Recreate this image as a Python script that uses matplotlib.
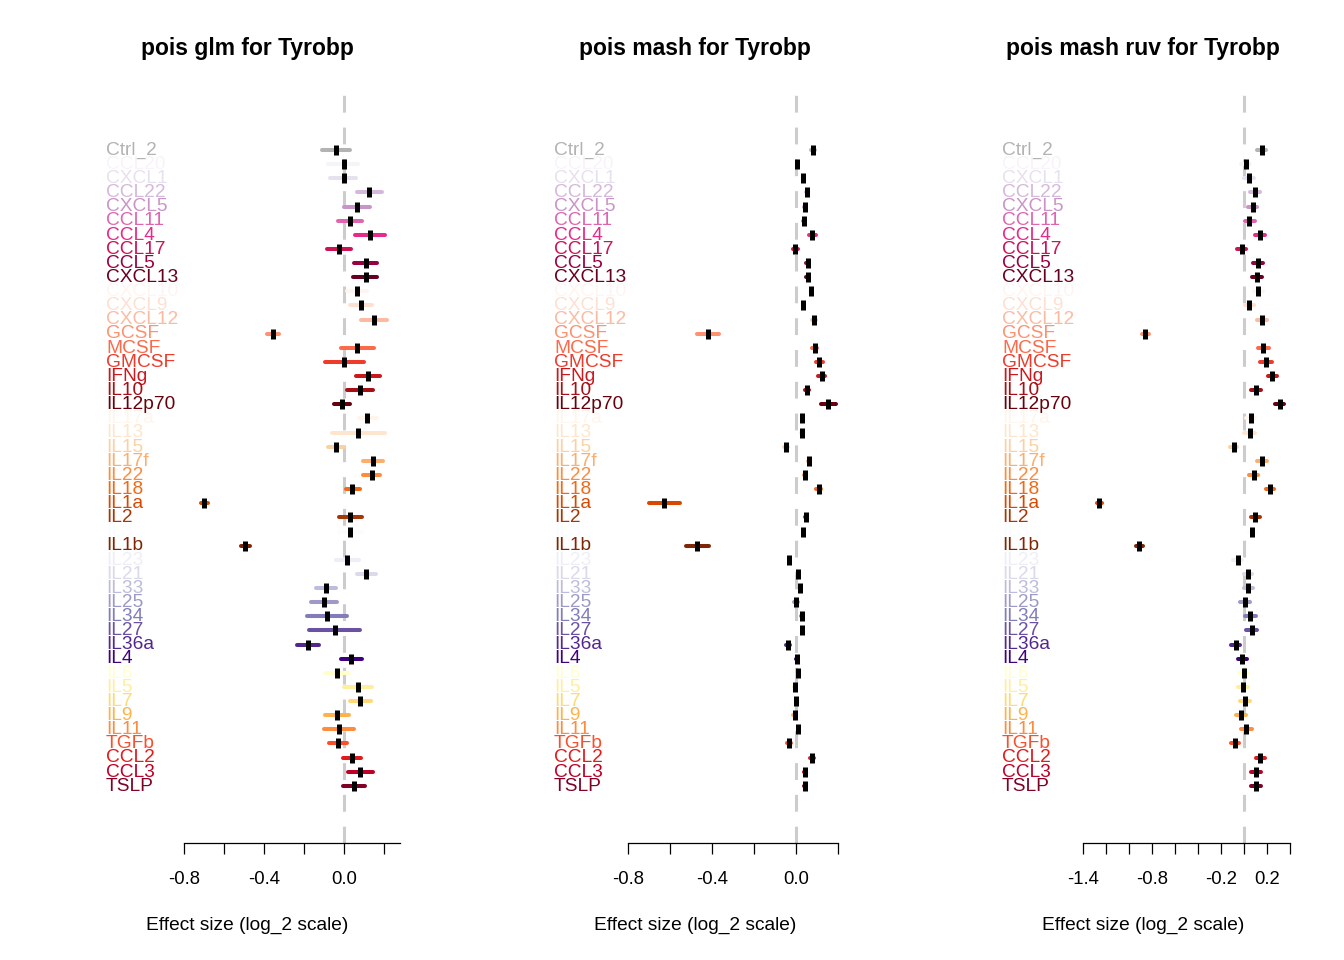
import matplotlib
matplotlib.use('Agg')
import matplotlib.pyplot as plt

plt.rcParams['font.family'] = ['Liberation Sans', 'DejaVu Sans']

# conditions, top to bottom
labels = ['Ctrl_2', 'CCL20', 'CXCL1', 'CCL22', 'CXCL5', 'CCL11', 'CCL4', 'CCL17', 'CCL5', 'CXCL13',
          'CXCL10', 'CXCL9', 'CXCL12', 'GCSF', 'MCSF', 'GMCSF', 'IFNg', 'IL10', 'IL12p70',
          'IL17a', 'IL13', 'IL15', 'IL17f', 'IL22', 'IL18', 'IL1a', 'IL2', 'IL3', 'IL1b',
          'IL23', 'IL21', 'IL33', 'IL25', 'IL34', 'IL27', 'IL36a', 'IL4',
          'IL6', 'IL5', 'IL7', 'IL9', 'IL11', 'TGFb', 'CCL2', 'CCL3', 'TSLP']

colors = ['#B3B3B3',
          '#F7F4F9', '#E7E1EF', '#D4B9DA', '#C994C7', '#DF65B0', '#E7298A', '#CE1256', '#980043', '#67001F',
          '#FFF5F0', '#FEE0D2', '#FCBBA1', '#FC9272', '#FB6A4A', '#EF3B2C', '#CB181D', '#A50F15', '#67000D',
          '#FFF5EB', '#FEE6CE', '#FDD0A2', '#FDAE6B', '#FD8D3C', '#F16913', '#D94801', '#A63603', '#FCFBFD', '#7F2704',
          '#EFEDF5', '#DADAEB', '#BCBDDC', '#9E9AC8', '#807DBA', '#6A51A3', '#54278F', '#3F007D',
          '#FFFFCC', '#FFEDA0', '#FED976', '#FEB24C', '#FD8D3C', '#FC4E2A', '#E31A1C', '#BD0026', '#800026']

# pois glm
glm_est = [-0.04, 0.0, 0.0, 0.127, 0.063, 0.028, 0.13, -0.025, 0.108, 0.108,
           0.063, 0.087, 0.15, -0.357, 0.067, 0.002, 0.118, 0.082, -0.008,
           0.117, 0.072, -0.042, 0.143, 0.138, 0.042, -0.698, 0.03, 0.03, -0.495,
           0.017, 0.11, -0.09, -0.1, -0.083, -0.047, -0.18, 0.037,
           -0.035, 0.07, 0.08, -0.035, -0.025, -0.03, 0.038, 0.082, 0.05]
glm_lo = [-0.11, -0.08, -0.07, 0.065, 0.0, -0.03, 0.057, -0.083, 0.048, 0.045,
          0.015, 0.032, 0.087, -0.385, -0.015, -0.095, 0.06, 0.015, -0.048,
          0.073, -0.06, -0.08, 0.093, 0.095, 0.01, -0.715, -0.027, -0.027, -0.513,
          -0.04, 0.065, -0.14, -0.165, -0.183, -0.173, -0.237, -0.015,
          -0.093, 0.002, 0.028, -0.097, -0.102, -0.073, -0.007, 0.018, -0.007]
glm_hi = [0.03, 0.07, 0.06, 0.19, 0.13, 0.088, 0.203, 0.037, 0.167, 0.167,
          0.117, 0.142, 0.215, -0.325, 0.148, 0.098, 0.182, 0.145, 0.032,
          0.163, 0.203, -0.002, 0.195, 0.182, 0.078, -0.68, 0.092, 0.09, -0.472,
          0.075, 0.158, -0.038, -0.033, 0.017, 0.082, -0.123, 0.092,
          0.023, 0.14, 0.133, 0.025, 0.05, 0.013, 0.083, 0.145, 0.105]

# pois mash
mash_est = [0.081, 0.006, 0.035, 0.051, 0.043, 0.038, 0.078, -0.003, 0.056, 0.056,
            0.071, 0.035, 0.087, -0.419, 0.089, 0.111, 0.122, 0.052, 0.154,
            0.03, 0.027, -0.048, 0.062, 0.043, 0.108, -0.627, 0.048, 0.035, -0.47,
            -0.032, 0.008, 0.019, 0.0, 0.027, 0.03, -0.037, 0.005,
            0.011, -0.005, 0.002, -0.006, 0.011, -0.033, 0.078, 0.041, 0.041]
mash_lo = [0.072, 0.003, 0.032, 0.048, 0.04, 0.035, 0.062, -0.016, 0.049, 0.049,
           0.068, 0.032, 0.077, -0.473, 0.077, 0.093, 0.104, 0.042, 0.119,
           0.027, 0.024, -0.058, 0.055, 0.04, 0.097, -0.702, 0.043, 0.032, -0.524,
           -0.035, 0.003, 0.016, -0.01, 0.024, 0.027, -0.047, 0.0,
           0.008, -0.008, -0.001, -0.013, 0.008, -0.043, 0.068, 0.038, 0.038]
mash_hi = [0.09, 0.009, 0.038, 0.054, 0.046, 0.041, 0.094, 0.01, 0.063, 0.063,
           0.074, 0.038, 0.097, -0.365, 0.101, 0.129, 0.14, 0.062, 0.189,
           0.033, 0.03, -0.038, 0.069, 0.046, 0.119, -0.552, 0.053, 0.038, -0.416,
           -0.029, 0.013, 0.022, 0.01, 0.03, 0.033, -0.027, 0.01,
           0.014, -0.002, 0.005, 0.001, 0.014, -0.023, 0.088, 0.044, 0.044]

# pois mash ruv
ruv_est = [0.154, 0.014, 0.043, 0.096, 0.075, 0.046, 0.139, -0.02, 0.119, 0.113,
           0.122, 0.046, 0.157, -0.858, 0.165, 0.188, 0.246, 0.104, 0.313,
           0.061, 0.052, -0.087, 0.154, 0.084, 0.226, -1.261, 0.099, 0.072, -0.91,
           -0.055, 0.032, 0.035, 0.009, 0.055, 0.067, -0.072, -0.014,
           -0.003, -0.012, 0.009, -0.029, 0.02, -0.075, 0.142, 0.101, 0.101]
ruv_lo = [0.113, -0.026, 0.003, 0.055, 0.037, 0.005, 0.098, -0.061, 0.078, 0.072,
          0.089, 0.005, 0.116, -0.887, 0.118, 0.136, 0.205, 0.063, 0.272,
          0.02, 0.003, -0.119, 0.11, 0.046, 0.194, -1.279, 0.058, 0.04, -0.937,
          -0.096, -0.003, -0.003, -0.038, 0.005, 0.017, -0.116, -0.055,
          -0.047, -0.055, -0.035, -0.067, -0.024, -0.113, 0.107, 0.06, 0.058]
ruv_hi = [0.195, 0.05, 0.087, 0.137, 0.116, 0.093, 0.18, 0.021, 0.166, 0.16,
          0.166, 0.087, 0.203, -0.828, 0.215, 0.244, 0.29, 0.151, 0.348,
          0.099, 0.099, -0.058, 0.198, 0.122, 0.258, -1.234, 0.142, 0.108, -0.881,
          -0.014, 0.073, 0.079, 0.05, 0.102, 0.116, -0.031, 0.026,
          0.038, 0.035, 0.05, 0.015, 0.07, -0.043, 0.18, 0.145, 0.145]

titles = ['pois glm for Tyrobp', 'pois mash for Tyrobp', 'pois mash ruv for Tyrobp']
panels = [(glm_est, glm_lo, glm_hi), (mash_est, mash_lo, mash_hi), (ruv_est, ruv_lo, ruv_hi)]

W, H = 1344, 960
# left pixel of panel, pixel of zero, pixels per unit, axis bounds, ticks, labelled ticks
layout = [
    (94, 344, 200, (-0.8, 0.28), [-0.8, -0.6, -0.4, -0.2, 0.0, 0.2], ['-0.8', '', '-0.4', '', '0.0', '']),
    (542, 796, 210, (-0.8, 0.2), [-0.8, -0.6, -0.4, -0.2, 0.0, 0.2], ['-0.8', '', '-0.4', '', '0.0', '']),
    (990, 1244, 115, (-1.4, 0.4), [-1.4, -1.2, -1.0, -0.8, -0.6, -0.4, -0.2, 0.0, 0.2, 0.4],
     ['-1.4', '', '', '-0.8', '', '', '-0.2', '', '0.2', '']),
]
ax_w = 306
top_px, bot_px = 95, 843
row0, row_step = 150, 14.13

fig = plt.figure(figsize=(W / 100, H / 100), dpi=100)

for k in range(3):
    left, zero, scale, bounds, ticks, ticklabels = layout[k]
    est, lo, hi = panels[k]
    ax = fig.add_axes([left / W, 1 - bot_px / H, ax_w / W, (bot_px - top_px) / H])
    ax.set_xlim((left - zero) / scale, (left + ax_w - zero) / scale)
    ax.set_ylim((bot_px - row0) / row_step, (top_px - row0) / row_step)

    # zero line
    ax.axvline(0, color='#CCCCCC', lw=2.2, ls=(0, (5.5, 4.9)), zorder=1)

    n = len(labels)
    for i in range(n):
        ax.plot([lo[i], hi[i]], [i, i], color=colors[i], lw=2.9,
                solid_capstyle='round', zorder=2)
        ax.plot(est[i], i, marker='|', color='black', markersize=7.2,
                markeredgewidth=3.6, zorder=3)
        # row labels sit a touch above the row centre
        ax.text(12 / ax_w, i - 0.12, labels[i], color=colors[i], fontsize=13.8,
                ha='left', va='center_baseline', transform=ax.get_yaxis_transform())

    for s in ['left', 'top', 'right']:
        ax.spines[s].set_visible(False)
    ax.spines['bottom'].set_bounds(*bounds)
    ax.spines['bottom'].set_linewidth(0.9)
    ax.set_yticks([])
    ax.set_xticks(ticks)
    ax.set_xticklabels(ticklabels)
    ax.tick_params(axis='x', length=8, width=0.9, pad=12, labelsize=13.3)

    ax.text(0.5, 1 + 47 / (bot_px - top_px), titles[k], transform=ax.transAxes,
            ha='center', va='center', fontsize=16.5, fontweight='bold')
    ax.text(0.5, -82 / (bot_px - top_px), 'Effect size (log_2 scale)', transform=ax.transAxes,
            ha='center', va='center', fontsize=13.8)

fig.savefig('out.png', dpi=100)
